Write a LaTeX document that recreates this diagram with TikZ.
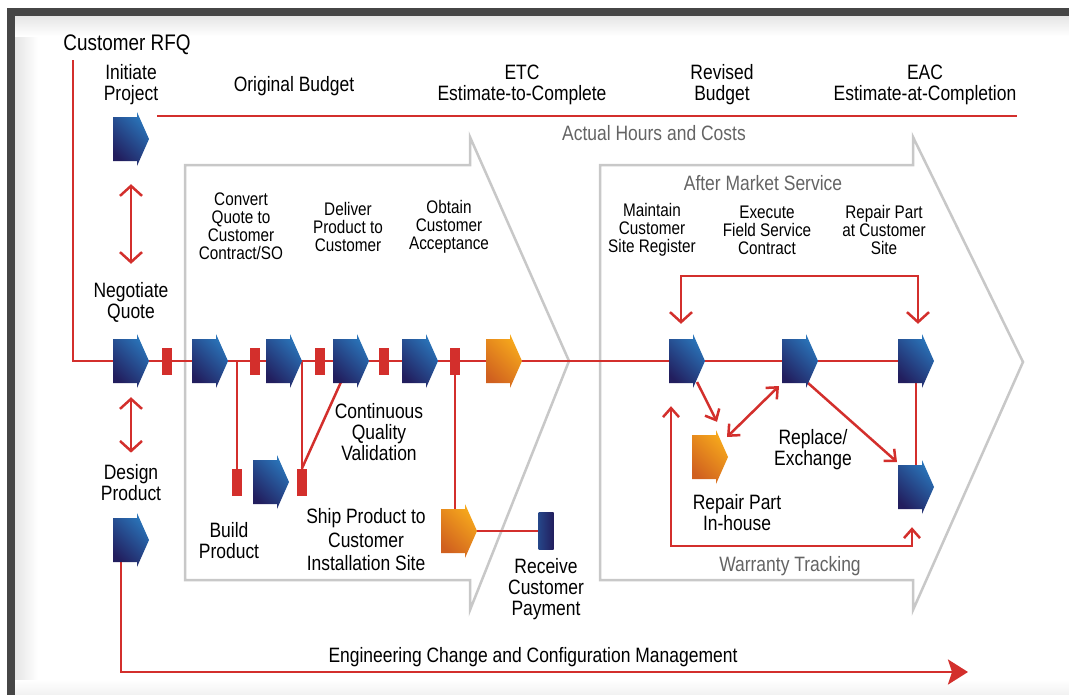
\documentclass[tikz,border=0pt]{standalone}
\usepackage{fontspec}
\setmainfont{Liberation Sans}[FakeStretch=0.84]
\usetikzlibrary{positioning, arrows.meta, calc}

\definecolor{linered}{RGB}{211,47,44}
\definecolor{chevgray}{RGB}{200,200,200}
\definecolor{txtgray}{RGB}{100,100,100}
\definecolor{pnavy}{RGB}{34,30,94}
\definecolor{pblue}{RGB}{42,118,187}
\definecolor{podark}{RGB}{208,96,31}
\definecolor{polight}{RGB}{247,170,28}
\definecolor{framegray}{RGB}{70,70,70}

\pgfdeclarelayer{bg}
\pgfsetlayers{bg,main}

\begin{document}
\begin{tikzpicture}[x=1pt,y=-1pt,on grid,
    big/.style={align=center,inner sep=0pt,yshift=-2pt,font=\fontsize{20.8}{21}\selectfont},
    small/.style={align=center,inner sep=0pt,yshift=-1pt,font=\fontsize{18.2}{18}\selectfont},
    grey/.style={big,text=txtgray},
    pent/.style={minimum width=36pt,minimum height=54pt,inner sep=0pt},
    gate/.style={fill=linered,minimum width=10pt,minimum height=27pt,inner sep=0pt},
    recvbar/.style={minimum width=15pt,minimum height=37pt,inner sep=0pt,
        left color=pnavy!55!pblue,right color=pnavy},
    navyshade/.style={top color=pblue,bottom color=pnavy,shading angle=-45},
    orshade/.style={top color=polight,bottom color=podark,shading angle=-45},
    redline/.style={draw=linered,line width=2.5pt},
    chev/.style={draw=chevgray,line width=2.5pt},
    dbl/.style={redline,<->,>={Straight Barb[length=10pt,width=22pt]}},
    sarr/.style={redline,->,>={Straight Barb[length=9pt,width=16pt]}},
    sdbl/.style={redline,<->,>={Straight Barb[length=9pt,width=16pt]}}]

    \useasboundingbox (0,0) rectangle (1069,694);

    %%% NODOS %%%
    % fila principal
    \node[pent] (neg) at (131,361) {};
    \node[gate] (g1)      [right=36pt of neg] {};
    \node[pent] (convq)   [right=43pt of g1] {};
    \node[gate] (g2)      [right=45pt of convq] {};
    \node[pent] (release) [right=29pt of g2] {};
    \node[gate] (g3)      [right=36pt of release] {};
    \node[pent] (deliv)   [right=31pt of g3] {};
    \node[gate] (g4)      [right=33pt of deliv] {};
    \node[pent] (accept)  [right=36pt of g4] {};
    \node[gate] (g5)      [right=35pt of accept] {};
    \node[pent] (bill)    [right=49pt of g5] {};

    % columna izquierda
    \node[pent] (init)   [above=222pt of neg] {};
    \node[pent] (design) [below=179pt of neg] {};

    % rama inferior
    \node[gate] (gb1) at (237,482) {};
    \node[pent] (build) [right=34pt of gb1] {};
    \node[gate] (gb2)   [right=31pt of build] {};
    \node[pent] (ship) at (459,531) {};
    \node[recvbar] (recv) [right=87pt of ship] {};

    % servicio post-venta
    \node[pent] (sitereg)  at (687,361) {};
    \node[pent] (fieldsvc) [right=113pt of sitereg] {};
    \node[pent] (repsite)  [right=116pt of fieldsvc] {};
    \node[pent] (lowright) [below=126pt of repsite] {};
    \node[pent] (inhouse)  at (710,457) {};

    % extremos libres
    \coordinate (rfqend)   at (73,60);
    \coordinate (budstart) at (157,116);
    \coordinate (budend)   at (1017,116);
    \coordinate (ecmend)   at (968,672);

    %%% TEXTOS %%%
    \node[big,font=\fontsize{22.5}{24}\selectfont] (rfqtxt) at (127,43) {Customer RFQ};
    \node[big] (inittxt) [above=56pt of init] {Initiate\\Project};
    \node[big] (origbud) at (294,84) {Original Budget};
    \node[big] (etc)     at (522,83) {ETC\\Estimate-to-Complete};
    \node[big] (revbud)  at (722,83) {Revised\\Budget};
    \node[big] (eac)     at (925,83) {EAC\\Estimate-at-Completion};
    \node[grey] (actual) at (654,131) {Actual Hours and Costs};
    \node[big] (negtxt)  [above=61pt of neg] {Negotiate\\Quote};
    \node[big] (destxt)  [above=59pt of design] {Design\\Product};
    \node[small] (convtxt)  at (241,225) {Convert\\Quote to\\Customer\\Contract/SO};
    \node[small] (delivtxt) at (348,226) {Deliver\\Product to\\Customer};
    \node[small] (obttxt)   at (449,226) {Obtain\\Customer\\Acceptance};
    \node[big] (cqvtxt)   at (379,430) {Continuous\\Quality\\Validation};
    \node[big] (buildtxt) at (229,539) {Build\\Product};
    \node[big,font=\fontsize{20.8}{23.5}\selectfont] (shiptxt) at (366,538) {Ship Product to\\Customer\\Installation Site};
    \node[big] (recvtxt)  [below=56pt of recv] {Receive\\Customer\\Payment};
    \node[grey] (amstxt)  at (763,181) {After Market Service};
    \node[small] (mainttxt)   at (652,229) {Maintain\\Customer\\Site Register};
    \node[small] (exectxt)    at (767,229) {Execute\\Field Service\\Contract};
    \node[small] (repsitetxt) at (884,229) {Repair Part\\at Customer\\Site};
    \node[big] (repltxt)    at (813,448) {Replace/\\Exchange};
    \node[big] (inhousetxt) at (737,511) {Repair Part\\In-house};
    \node[grey] (warrtxt)   at (790,564) {Warranty Tracking};
    \node[big] (ecmtxt)     at (533,655) {Engineering Change and Configuration Management};

    %%% FLECHAS (pentagonos) %%%
    \foreach \p/\s in {init/navyshade,neg/navyshade,convq/navyshade,release/navyshade,
        deliv/navyshade,accept/navyshade,bill/orshade,design/navyshade,build/navyshade,
        ship/orshade,sitereg/navyshade,fieldsvc/navyshade,repsite/navyshade,
        lowright/navyshade,inhouse/orshade}
      \shade[\s] (\p.center) ++(-18,-22) -- ++(24,0) -- ++(0,-5) -- ++(12,27)
        -- ++(-12,27) -- ++(0,-5) -- ++(-24,0) -- cycle;

    %%% LINEAS %%%
    \begin{pgfonlayer}{bg}
      % marco
      \fill[framegray] (7,8) rectangle (1080,700);
      \fill[white] (15,16) rectangle (1080,700);
      \shade[left color=black!10,right color=white] (15,16) rectangle (38,694);
      \shade[top color=black!10,bottom color=white] (15,16) rectangle (1069,36);
      \shade[top color=white,bottom color=black!5] (15,680) rectangle (1069,694);

      % chevrones
      \draw[chev] (185,165) -- (470,165) -- (470,137) -- (569,361) -- (470,610)
        -- (470,580) -- (185,580) -- cycle;
      \draw[chev] (600,165) -- (913,165) -- (913,137) -- (1023,362) -- (913,610)
        -- (913,580) -- (600,580) -- cycle;

      % linea principal
      \draw[redline] (rfqend) |- (neg.center) -- (repsite.center);
      \draw[redline] (budstart) -- (budend);

      % rama inferior
      \draw[redline] (gb1.center) -- (gb1 |- g1);
      \draw[redline] (gb2.center) -- (gb2 |- g3);
      \draw[redline] (gb2.north) -- ($(deliv.center)+(-10,21)$);
      \draw[redline] (g5.center) -- (g5 |- ship.center);
      \draw[redline] (ship.center) -- (recv.center);
      \draw[redline,-{Stealth[length=20pt,width=25pt,inset=4pt]}]
        ([xshift=-10pt]design.center) |- (ecmend);

      % columna izquierda
      \draw[dbl] ([yshift=-18pt]init.south) -- ([yshift=18pt]negtxt.north);
      \draw[dbl] ([yshift=-9pt]neg.south) -- ([yshift=12pt]destxt.north);

      % servicio post-venta
      \draw[dbl] ([shift={(-6,-10)}]sitereg.north) -- ++(0,-48)
        -| ([shift={(2,-10)}]repsite.north);
      \draw[sarr] ($(sitereg.center)+(10,21)$) -- ($(inhouse.north)+(7,-8)$);
      \draw[sdbl] ($(inhouse.center)+(17,-20)$) -- ($(fieldsvc.center)+(-21,25)$);
      \draw[sarr] ($(fieldsvc.center)+(8,22)$) -- ($(lowright.center)+(-19,-25)$);
      \draw[redline] (repsite.center) -- (lowright.center);
      \draw[sdbl] ([shift={(-16,18)}]sitereg.south) -- ++(0,140)
        -| ([shift={(-4,13)}]lowright.south);
    \end{pgfonlayer}
\end{tikzpicture}
\end{document}
